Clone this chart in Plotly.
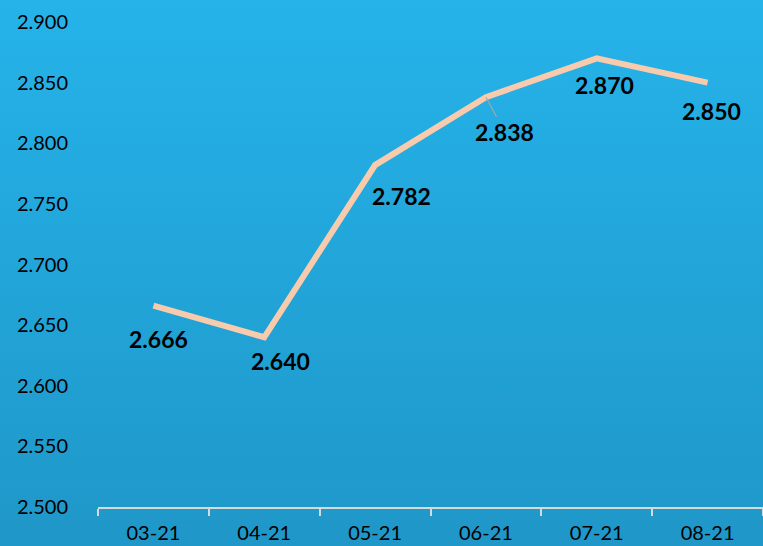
import plotly.graph_objects as go
import base64

months = ["03-21", "04-21", "05-21", "06-21", "07-21", "08-21"]
values = [2.666, 2.640, 2.782, 2.838, 2.870, 2.850]
labels = ["2.666", "2.640", "2.782", "2.838", "2.870", "2.850"]
y_ticks = [2.50, 2.55, 2.60, 2.65, 2.70, 2.75, 2.80, 2.85, 2.90]
y_tick_text = ["2.500", "2.550", "2.600", "2.650", "2.700", "2.750", "2.800", "2.850", "2.900"]

# label offsets in pixels (dx, dy)
label_dx = [5, 16, 26, 19, 8, 4]
label_dy = [33, 24, 31, 35, 27, 28]
leader = [False, False, False, True, False, False]

W, H = 763, 546
L, R, T, B = 98, 0, 22, 39
pw, ph = W - L - R, H - T - B

svg = (
    f'<svg xmlns="http://www.w3.org/2000/svg" width="{W}" height="{H}">'
    '<defs><linearGradient id="g" x1="0" y1="0" x2="0" y2="1">'
    '<stop offset="0" stop-color="#25B3EA"/><stop offset="1" stop-color="#1F97C8"/>'
    '</linearGradient></defs>'
    f'<rect width="{W}" height="{H}" fill="url(#g)"/></svg>'
)
src = "data:image/svg+xml;base64," + base64.b64encode(svg.encode()).decode()

fig = go.Figure()
fig.add_trace(go.Scatter(
    x=months, y=values, mode="lines",
    line=dict(color="#F8CBAD", width=6),
    hoverinfo="skip", showlegend=False,
))

for m, v, t, dx, dy, ld in zip(months, values, labels, label_dx, label_dy, leader):
    fig.add_annotation(
        x=m, y=v, text=f"<b>{t}</b>", xref="x", yref="y",
        showarrow=True, ax=dx, ay=dy, arrowhead=0,
        arrowwidth=1.2, arrowcolor="#A6A6A6" if ld else "rgba(0,0,0,0)",
        startstandoff=0, standoff=0,
        font=dict(family="Lato", size=23, color="black"),
    )

fig.add_layout_image(dict(
    source=src, xref="paper", yref="paper",
    x=-L / pw, y=1 + T / ph, sizex=W / pw, sizey=H / ph,
    xanchor="left", yanchor="top", sizing="stretch", layer="below",
))

fig.update_layout(
    width=W, height=H,
    margin=dict(l=L, r=R, t=T, b=B, pad=0),
    paper_bgcolor="#22A6DB", plot_bgcolor="rgba(0,0,0,0)",
    font=dict(family="Lato", size=20, color="black"),
    xaxis=dict(
        type="category", range=[-0.5, 5.5], tickson="boundaries",
        showline=True, linecolor="#D9D9D9", linewidth=2,
        ticks="outside", ticklen=7, tickcolor="#D9D9D9", tickwidth=2,
        showgrid=False, zeroline=False, fixedrange=True,
        tickfont=dict(family="Lato", size=20, color="black"),
        ticklabelstandoff=7,
    ),
    yaxis=dict(
        range=[2.5, 2.9], tickvals=y_ticks, ticktext=y_tick_text,
        showline=False, showgrid=False, zeroline=False, ticks="",
        tickfont=dict(family="Lato", size=20, color="black"),
        ticklabelstandoff=29, fixedrange=True,
    ),
)

fig.write_html(
    "out.html",
    config={"displayModeBar": False},
    post_script="document.body.style.margin='0';document.body.style.overflow='hidden';",
)
